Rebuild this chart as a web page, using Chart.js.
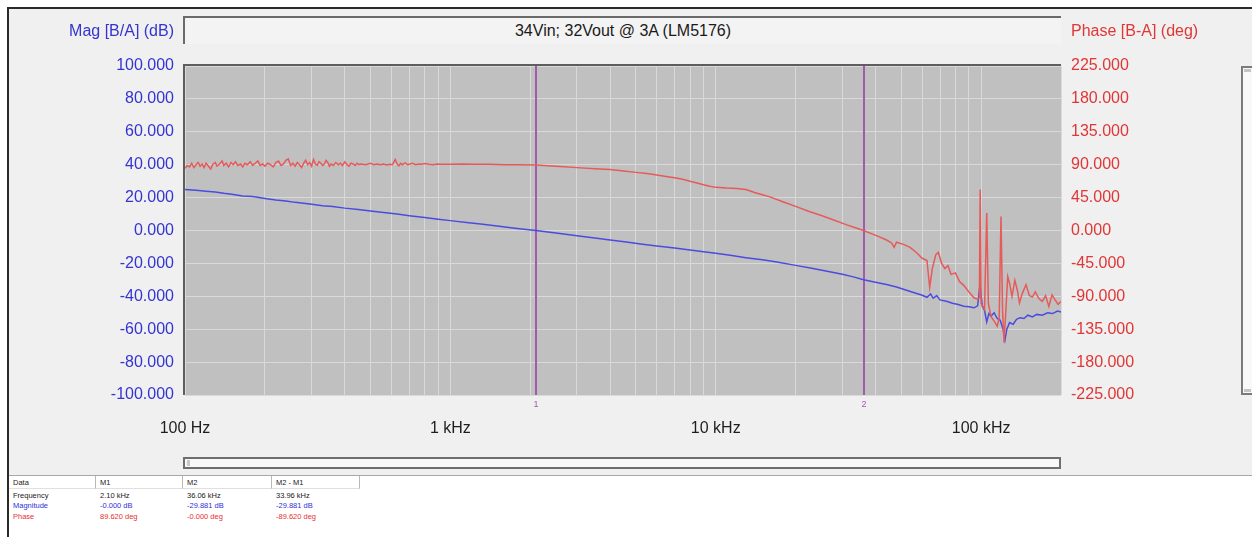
<!DOCTYPE html>
<html><head><meta charset="utf-8">
<script src="https://cdn.jsdelivr.net/npm/chart.js@4/dist/chart.umd.min.js"></script>
<style>
html,body{margin:0;padding:0;background:#fff;}
body{width:1252px;height:537px;position:relative;overflow:hidden;font-family:"Liberation Sans",Arial,sans-serif;}
#frame{position:absolute;left:7px;top:7px;width:1245px;height:530px;box-sizing:border-box;border-left:2px solid #2a2a2a;border-top:2px solid #2a2a2a;background:#f0f0f0;}
#chartWrap{position:absolute;left:0;top:0;width:1252px;height:450px;}
#titleBox{position:absolute;left:183px;top:16px;width:878px;height:28px;box-sizing:border-box;border-top:2px solid #6a6a6a;border-left:2px solid #6a6a6a;background:#f3f3f3;text-align:center;line-height:25px;font-size:16px;color:#1a1a1a;}
.axTitle{position:absolute;top:22px;height:18px;line-height:18px;font-size:16px;white-space:nowrap;}
#magTitle{right:1078px;color:#3434d0;text-align:right;}
#phaseTitle{left:1071px;color:#e03636;}
#hscroll{position:absolute;left:183px;top:457px;width:878px;height:12px;box-sizing:border-box;border:2px solid #6e6e6e;background:#f8f8f8;}
#hscroll .knob{position:absolute;left:2px;top:1px;width:3px;height:6px;background:#c8c8c8;}
#vscroll{position:absolute;left:1241px;top:66px;width:11px;height:329px;box-sizing:border-box;border:2px solid #7a7a7a;border-right:none;background:#f8f8f8;}
#vscroll .knob{position:absolute;left:1px;width:7px;height:3px;background:#c4c4c4;}
#table{position:absolute;left:9px;top:475px;width:1243px;height:62px;background:#fff;border-top:1px solid #a8a8a8;font-size:7.5px;font-family:"Liberation Sans",Arial,sans-serif;}
#table .hdr{position:absolute;top:0;height:13px;box-sizing:border-box;border-right:1px solid #b8b8b8;border-bottom:1px solid #e0e0e0;padding-left:4px;line-height:13px;color:#222;}
#table .cell{position:absolute;height:10px;line-height:10px;white-space:nowrap;}
</style>
</head>
<body>
<div id="frame"></div>
<div id="chartWrap"><canvas id="c" width="1252" height="450"></canvas></div>
<div id="titleBox">34Vin; 32Vout @ 3A (LM5176)</div>
<div id="magTitle" class="axTitle">Mag [B/A] (dB)</div>
<div id="phaseTitle" class="axTitle">Phase [B-A] (deg)</div>
<div id="hscroll"><div class="knob"></div></div>
<div id="vscroll"><div class="knob" style="top:1px"></div><div class="knob" style="bottom:1px"></div></div>
<div id="table"></div>
<script>
// ---------------- data ----------------
const magFreq = [100,110,120,130,140,150,165,180,200,220,240,260,280,300,330,360,400,450,500,560,630,700,800,900,1000,1150,1300,1500,1750,2100,2500,3000,3500,4000,4600,5300,6000,7000,8000,9000,10000,11500,13000,15000,17000,20000,23000,26000,30000,33000,36060,40000,44000,48000,52000,56000,60000,62500,64500,66000,68000,70000,74000,78000,82000,86000,90000,94000,97000,99000,101000,103000,105000,107000,109000,112000,115000,118000,121000,123000,125000,128000,132000,136000,140000,145000,150000,156000,162000,170000,178000,186000,194000,200000];
const magDb = [25.0,24.4,23.9,23.4,22.6,22.1,21.0,20.6,19.5,18.6,18.0,17.1,16.6,16.0,15.1,14.6,13.6,12.7,11.8,11.0,10.0,9.0,7.9,6.9,6.0,4.9,3.9,2.7,1.4,0.0,-1.5,-3.2,-4.6,-5.8,-7.0,-8.3,-9.4,-10.7,-11.9,-12.9,-13.9,-15.2,-16.5,-17.8,-19.2,-21.2,-23.0,-24.6,-26.6,-28.2,-29.9,-31.4,-32.8,-34.4,-36.2,-37.8,-39.4,-40.6,-38.6,-41.2,-39.6,-42.2,-43.0,-44.2,-45.0,-46.0,-46.4,-47.0,-45.8,-33.0,-46.0,-48.5,-55.5,-50.5,-52.0,-50.0,-53.5,-54.5,-60.0,-66.5,-60.0,-56.0,-57.0,-54.0,-53.0,-53.5,-51.5,-52.5,-51.0,-51.5,-50.0,-50.5,-49.0,-49.5];

const phaseFreq = [
  100,102,104,106,108,110,112,114,116,118,
  120,122,125,127,130,132,135,138,140,143,
  146,149,152,155,158,162,165,168,172,176,
  180,184,188,192,196,200,205,210,215,220,
  225,230,235,240,245,250,255,260,265,270,
  275,280,285,290,295,300,305,310,315,320,
  325,330,335,340,345,350,355,362,370,378,
  385,392,400,408,415,422,430,438,445,452,
  460,480,500,515,530,545,560,575,590,605,
  620,630,640,650,660,675,690,705,720,740,
  760,780,800,830,860,890,920,1000,1100,1250,
  1400,1600,1800,2100,2500,3000,3500,4000,4500,5000,
  5500,6000,6500,7000,7500,8000,8500,9000,9500,10000,
  11000,12000,13000,14000,15000,16000,18000,20000,22500,25000,
  28000,31000,34000,36060,39000,41000,44000,46000,47000,48000,
  51000,54000,57000,60000,62500,64000,65500,67500,69000,71000,
  73000,75000,77000,80000,83000,86000,90000,94000,97000,98500,
  99200,100000,101000,103000,105000,106500,109000,112000,115000,117000,
  118800,120500,122000,124000,126000,128000,130700,134000,137000,139500,
  143000,147600,152000,156000,160000,165000,170000,175000,180000,185000,
  190000,195000,200000];
const phaseDeg = [
  85,89,87,92,86,90,93,88,91,86,
  92,89,84,90,93,88,91,95,89,92,
  87,93,90,94,89,91,87,92,90,94,
  89,92,95,89,91,88,92,90,87,93,
  95,89,91,96,98,89,92,88,93,90,
  86,92,96,90,93,88,97,91,89,94,
  92,89,91,96,93,88,91,89,93,90,
  92,89,94,90,88,92,91,89,92,90,
  91,90,92,90,91,90,91,89.5,90.5,90,
  97,91,88.5,92,90,92.5,90,91,92,90,
  91,90.5,91.5,90.5,90,91,90.5,90.5,91,90.5,
  90.5,90,90,89.6,88,86,84.5,83.3,81.5,79.5,
  78,76,74,72,70,67.5,65,62.5,60.5,59,
  58,57.5,56,52,49,46,39,33,26,20.5,
  14,8,3,0,-5,-8,-13,-17,-23,-16,
  -19,-23,-30,-38,-41,-78,-52,-33,-30,-45,
  -52,-48,-60,-58,-70,-75,-84,-92,-94,-92,
  56,-100,-102,-108,24,-100,-118,-124,-131,-120,
  19,-110,-153,-108,-63,-72,-90,-68,-82,-99,
  -86,-74,-89,-91,-84,-93,-97,-89,-104,-88,
  -95,-101,-97];

const freqTickLabels = {100:'100 Hz',1000:'1 kHz',10000:'10 kHz',100000:'100 kHz'};
const freqMin = 100, freqMax = 200000;
const markerFreqs = [2100, 36060];
const markerNames = ['1','2'];

const tableHeaders = ['Data','M1','M2','M2 - M1'];
const rowNames = ['Frequency','Magnitude','Phase'];
const rowFreq = ['2.10 kHz','36.06 kHz','33.96 kHz'];
const rowMag = ['-0.000 dB','-29.881 dB','-29.881 dB'];
const rowPhase = ['89.620 deg','-0.000 deg','-89.620 deg'];

// ---------------- table ----------------
(function(){
  const t = document.getElementById('table');
  const colX = [0, 87, 174, 263, 351];
  tableHeaders.forEach((h,i)=>{
    const d=document.createElement('div'); d.className='hdr';
    d.style.left=colX[i]+'px'; d.style.width=(colX[i+1]-colX[i])+'px'; d.textContent=h; t.appendChild(d);
  });
  const rows=[[rowNames[0]].concat(rowFreq),[rowNames[1]].concat(rowMag),[rowNames[2]].concat(rowPhase)];
  const colors=['#1a1a1a','#2f2fd8','#e83030'];
  rows.forEach((r,ri)=>{
    r.forEach((txt,ci)=>{
      const d=document.createElement('div'); d.className='cell';
      d.style.left=(colX[ci]+4)+'px'; d.style.top=(15+ri*10.3)+'px'; d.style.color=colors[ri]; d.textContent=txt; t.appendChild(d);
    });
  });
})();

// ---------------- chart ----------------
const gridFreqs = [];
for (let d = 100; d <= 100000; d *= 10) for (let m = 1; m <= 9; m++) if (d*m <= freqMax) gridFreqs.push(d*m);
gridFreqs.push(freqMax);

const plotDecor = {
  id:'plotDecor',
  beforeDraw(chart){
    const {ctx, chartArea:a} = chart;
    ctx.save(); ctx.fillStyle='#c0c0c0'; ctx.fillRect(a.left,a.top,a.right-a.left,a.bottom-a.top); ctx.restore();
  },
  beforeDatasetsDraw(chart){
    const {ctx, chartArea:a, scales} = chart;
    ctx.save();
    ctx.strokeStyle='#5e5e5e'; ctx.lineWidth=2;
    ctx.beginPath(); ctx.moveTo(a.left-1,a.bottom); ctx.lineTo(a.left-1,a.top-1); ctx.lineTo(a.right,a.top-1); ctx.stroke();
    markerFreqs.forEach((f,i)=>{
      const x = Math.round(scales.x.getPixelForValue(f));
      ctx.strokeStyle='#a25aac'; ctx.lineWidth=2;
      ctx.beginPath(); ctx.moveTo(x,a.top); ctx.lineTo(x,a.bottom); ctx.stroke();
      ctx.fillStyle='#a25aac'; ctx.font='9px "Liberation Sans", Arial, sans-serif';
      ctx.textAlign='center'; ctx.textBaseline='middle';
      ctx.fillText(markerNames[i], x, a.bottom+10);
    });
    ctx.restore();
  }
};

const FONT = '"Liberation Sans", Arial, sans-serif';
new Chart(document.getElementById('c'), {
  type:'line',
  data:{datasets:[
    {label:'Phase', data: phaseFreq.map((f,i)=>({x:f,y:phaseDeg[i]})), yAxisID:'y2', borderColor:'#e65a5a', borderWidth:1.5, pointRadius:0, tension:0},
    {label:'Magnitude', data: magFreq.map((f,i)=>({x:f,y:magDb[i]})), yAxisID:'y', borderColor:'#4b4be0', borderWidth:1.5, pointRadius:0, tension:0}
  ]},
  options:{
    responsive:false, animation:false, devicePixelRatio:1,
    layout:{padding:{top:66,left:0,right:0,bottom:0}},
    plugins:{legend:{display:false}, tooltip:{enabled:false}},
    scales:{
      x:{type:'logarithmic', position:'bottom', min:freqMin, max:freqMax,
        afterBuildTicks(s){ s.ticks = gridFreqs.map(v=>({value:v})); },
        afterFit(s){ s.height = 55; },
        grid:{color:'#d9d9d9', lineWidth:1, drawTicks:false},
        border:{display:false},
        ticks:{autoSkip:false, maxRotation:0, padding:24, color:'#1e1e1e', font:{family:FONT, size:16},
          callback(v){ return freqTickLabels[v] || ''; }}
      },
      y:{type:'linear', position:'left', min:-100, max:100,
        afterFit(s){ s.width = 185; },
        grid:{color:'#d9d9d9', lineWidth:1, drawTicks:false},
        border:{display:false},
        ticks:{stepSize:20, padding:11, color:'#3434d0', font:{family:FONT, size:16},
          callback(v){ return Number(v).toFixed(3); }}
      },
      y2:{type:'linear', position:'right', min:-225, max:225,
        afterFit(s){ s.width = 191; },
        grid:{display:false, drawTicks:false},
        border:{display:false},
        ticks:{stepSize:45, padding:10, color:'#e03636', font:{family:FONT, size:16},
          callback(v){ return Number(v).toFixed(3); }}
      }
    }
  },
  plugins:[plotDecor]
});
</script>
</body></html>
